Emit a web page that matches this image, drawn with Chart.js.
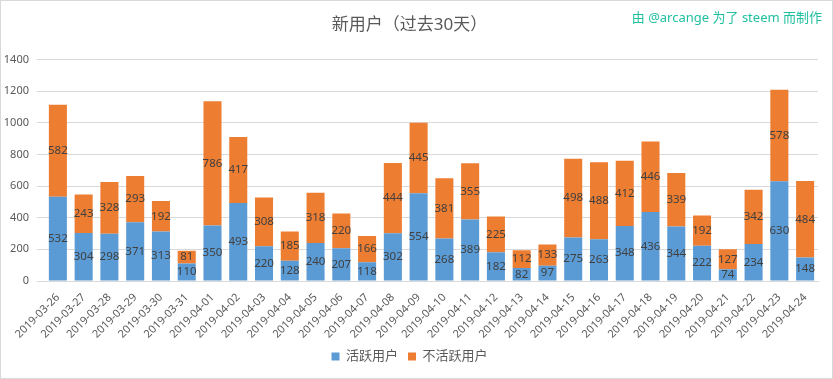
<!DOCTYPE html>
<html>
<head>
<meta charset="utf-8">
<script src="https://cdn.jsdelivr.net/npm/chart.js@4"></script>
<style>
html,body{margin:0;padding:0;background:#fff;}
#wrap{width:833px;height:379px;box-sizing:border-box;border:1px solid #d9d9d9;position:relative;}
canvas{display:block;}
</style>
</head>
<body>
<div id="wrap"><canvas id="c"></canvas></div>
<script>
const categories = ["2019-03-26","2019-03-27","2019-03-28","2019-03-29","2019-03-30","2019-03-31","2019-04-01","2019-04-02","2019-04-03","2019-04-04","2019-04-05","2019-04-06","2019-04-07","2019-04-08","2019-04-09","2019-04-10","2019-04-11","2019-04-12","2019-04-13","2019-04-14","2019-04-15","2019-04-16","2019-04-17","2019-04-18","2019-04-19","2019-04-20","2019-04-21","2019-04-22","2019-04-23","2019-04-24"];
const activeUsers = [532,304,298,371,313,110,350,493,220,128,240,207,118,302,554,268,389,182,82,97,275,263,348,436,344,222,74,234,630,148];
const inactiveUsers = [582,243,328,293,192,81,786,417,308,185,318,220,166,444,445,381,355,225,112,133,498,488,412,446,339,192,127,342,578,484];
const seriesNames = ["活跃用户","不活跃用户"];
const titleText = "新用户（过去30天）";
const creditText = "由 @arcange 为了 steem 而制作";
const yTicks = [0,200,400,600,800,1000,1200,1400];

const FONT = "'Noto Sans', 'Noto Sans CJK SC', sans-serif";

const labelPlugin = {
  id: 'segLabels',
  afterDatasetsDraw(chart) {
    const ctx = chart.ctx;
    ctx.save();
    ctx.font = "11.5px " + FONT;
    ctx.fillStyle = "#404040";
    ctx.textAlign = "center";
    ctx.textBaseline = "middle";
    chart.data.datasets.forEach((ds, di) => {
      const meta = chart.getDatasetMeta(di);
      meta.data.forEach((el, i) => {
        const y = (el.y + el.base) / 2;
        ctx.fillText(String(ds.data[i]), el.x, y);
      });
    });
    ctx.restore();
  }
};

const creditPlugin = {
  id: 'credit',
  afterDraw(chart) {
    const ctx = chart.ctx;
    ctx.save();
    ctx.font = "13px " + FONT;
    ctx.fillStyle = "#1fbf9f";
    ctx.textAlign = "right";
    ctx.textBaseline = "middle";
    ctx.fillText(creditText, chart.width - 10, 17);
    ctx.restore();
  }
};

new Chart(document.getElementById('c'), {
  type: 'bar',
  data: {
    labels: categories,
    datasets: [
      { label: seriesNames[0], data: activeUsers, backgroundColor: '#5b9bd5', categoryPercentage: 0.7, barPercentage: 1.0 },
      { label: seriesNames[1], data: inactiveUsers, backgroundColor: '#ed7d31', categoryPercentage: 0.7, barPercentage: 1.0 }
    ]
  },
  options: {
    responsive: true,
    maintainAspectRatio: false,
    animation: false,
    layout: { padding: { left: 0, right: 14, top: 0, bottom: 5 } },
    plugins: {
      title: {
        display: true,
        text: titleText,
        color: '#595959',
        font: { family: FONT, size: 17, weight: 'normal' },
        padding: { top: 14, bottom: 24 }
      },
      legend: {
        position: 'bottom',
        labels: {
          color: '#595959',
          font: { family: FONT, size: 13 },
          boxWidth: 8, boxHeight: 8, padding: 10
        }
      },
      tooltip: { enabled: false }
    },
    scales: {
      x: {
        stacked: true,
        grid: { display: false },
        border: { color: '#d9d9d9' },
        ticks: { color: '#595959', font: { family: FONT, size: 11 }, maxRotation: 45, minRotation: 45, autoSkip: false, padding: 2 },
        afterFit(scale) { scale.height = 59; }
      },
      y: {
        stacked: true,
        min: 0, max: 1400,
        afterBuildTicks(scale) { scale.ticks = yTicks.map(v => ({ value: v })); },
        grid: { color: '#d9d9d9' },
        border: { display: false },
        ticks: { color: '#595959', font: { family: FONT, size: 11 }, padding: 8, callback: (v) => String(v) },
        afterFit(scale) { scale.width = 44; }
      }
    }
  },
  plugins: [labelPlugin, creditPlugin]
});
</script>
</body>
</html>
